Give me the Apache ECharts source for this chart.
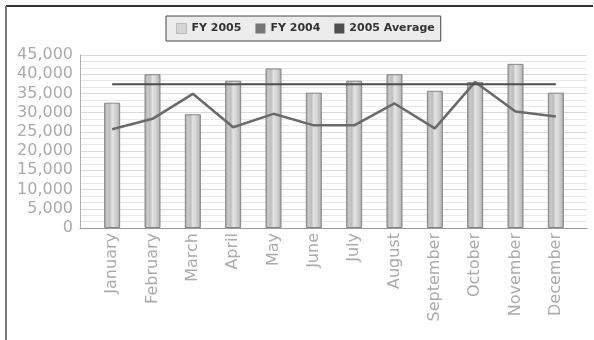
<!DOCTYPE html>
<html><head><meta charset="utf-8">
<script src="https://cdn.jsdelivr.net/npm/echarts@6/dist/echarts.min.js"></script>
<style>html,body{margin:0;padding:0;background:#fff}#c{width:594px;height:340px}</style>
</head><body><div id="c"></div>
<script>
const months = ["January","February","March","April","May","June","July","August","September","October","November","December"];
const fy2005 = [32600, 40000, 29600, 38300, 41500, 35200, 38300, 40000, 35700, 38000, 42700, 35200];
const fy2004 = [25700, 28400, 34900, 26200, 29700, 26700, 26700, 32400, 25900, 38000, 30300, 29000];
const avg2005 = [37400, 37400, 37400, 37400, 37400, 37400, 37400, 37400, 37400, 37400, 37400, 37400];
const yTicks = { min: 0, max: 45000, interval: 5000 };

const chart = echarts.init(document.getElementById('c'), null, {renderer:'canvas'});
const font = 'DejaVu Sans';
const barGrad = new echarts.graphic.LinearGradient(0,0,1,0,[
  {offset:0,color:'#a0a0a0'},{offset:0.18,color:'#cacaca'},{offset:0.35,color:'#bebebe'},
  {offset:0.5,color:'#e4e4e4'},{offset:0.7,color:'#d4d4d4'},{offset:0.85,color:'#c2c2c2'},{offset:1,color:'#a0a0a0'}]);
chart.setOption({
  animation:false,
  textStyle:{fontFamily:font},
  legend:{
    left:166, top:16, itemWidth:10, itemHeight:10, itemGap:14,
    padding:[7,6,7,10],
    backgroundColor:'#ececec', borderColor:'#444', borderWidth:1,
    textStyle:{fontFamily:font,fontSize:11,fontWeight:'bold',color:'#333'},
    data:[
      {name:'FY 2005', icon:'rect', itemStyle:{color:'#d4d4d4',borderColor:'#bbb',borderWidth:1}},
      {name:'FY 2004', icon:'rect', itemStyle:{color:'#757575'}},
      {name:'2005 Average', icon:'rect', itemStyle:{color:'#4e4e4e'}}
    ]
  },
  grid:[
    {left:80, right:7, top:55, bottom:112, containLabel:false},
    {left:92, right:18, top:55, bottom:112, containLabel:false}
  ],
  xAxis:[
    {gridIndex:0, type:'value', min:0, max:1, show:true,
     axisLine:{show:true,lineStyle:{color:'#9a9a9a',width:1}}, axisTick:{show:false},
     axisLabel:{show:false}, splitLine:{show:false}},
    {gridIndex:1, type:'category', data:months, boundaryGap:true,
     axisLine:{show:false}, axisTick:{show:false},
     axisLabel:{rotate:90, color:'#ababab', fontSize:16, fontFamily:font, margin:5, interval:0}}
  ],
  yAxis:[
    {gridIndex:0, type:'value', min:yTicks.min, max:yTicks.max, interval:yTicks.interval,
     axisLine:{show:true,lineStyle:{color:'#b0b0b0'}}, axisTick:{show:false},
     axisLabel:{color:'#ababab', fontSize:16, fontFamily:font, margin:7,
       formatter:v=>v.toLocaleString('en-US')},
     splitLine:{show:true,lineStyle:{color:'#dadada',width:1}},
     minorTick:{show:false, splitNumber:3},
     minorSplitLine:{show:true,lineStyle:{color:'#e8e8e8',width:1}}},
    {gridIndex:1, type:'value', min:yTicks.min, max:yTicks.max, show:false, splitLine:{show:false}}
  ],
  series:[
    {name:'FY 2005', type:'bar', xAxisIndex:1, yAxisIndex:1, data:fy2005, barWidth:16,
     itemStyle:{color:barGrad, borderColor:'#858585', borderWidth:1}},
    {name:'FY 2004', type:'line', xAxisIndex:1, yAxisIndex:1, data:fy2004, symbol:'none',
     lineStyle:{color:'#6a6a6a', width:2.5}, itemStyle:{color:'#757575'}},
    {name:'2005 Average', type:'line', xAxisIndex:1, yAxisIndex:1, data:avg2005, symbol:'none',
     lineStyle:{color:'#4e4e4e', width:2}, itemStyle:{color:'#4e4e4e'}}
  ],
  graphic:[
    {type:'line', shape:{x1:6,y1:6,x2:593,y2:6}, style:{stroke:'#333',lineWidth:2}, silent:true},
    {type:'line', shape:{x1:6,y1:6,x2:6,y2:340}, style:{stroke:'#777',lineWidth:2}, silent:true}
  ]
});
</script></body></html>
